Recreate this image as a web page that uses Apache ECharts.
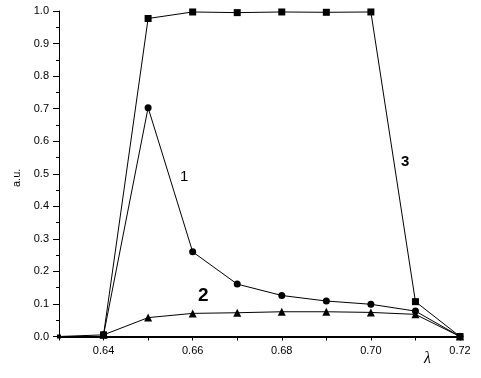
<!DOCTYPE html>
<html><head><meta charset="utf-8">
<script src="https://cdn.jsdelivr.net/npm/echarts@6/dist/echarts.min.js"></script>
<style>html,body{margin:0;padding:0;background:#fff}#c{width:481px;height:378px}</style>
</head><body><div id="c"></div>
<script>
var lambda = [0.63, 0.64, 0.65, 0.66, 0.67, 0.68, 0.69, 0.70, 0.71, 0.72];
var curve3 = [0, 0.005, 0.977, 0.997, 0.995, 0.997, 0.996, 0.997, 0.107, 0];
var curve1 = [null, 0.005, 0.703, 0.260, 0.161, 0.126, 0.109, 0.099, 0.078, 0];
var curve2 = [null, 0.005, 0.058, 0.071, 0.073, 0.076, 0.076, 0.074, 0.068, 0];
var xLabels = [0.64, 0.66, 0.68, 0.70, 0.72];
var xTicks = [0.63, 0.64, 0.65, 0.66, 0.67, 0.68, 0.69, 0.70, 0.71, 0.72];

function pairs(v){ var o=[]; for(var i=0;i<lambda.length;i++){ if(v[i]!==null) o.push([lambda[i], v[i]]);} return o; }
var chart = echarts.init(document.getElementById('c'));
var lab = {color:'#000', fontFamily:'Liberation Sans', fontSize:11};
function ser(data, sym, size){
  return {type:'line', data:pairs(data), symbol:sym,
    symbolSize:function(val){ return val[0] < 0.635 ? 4 : size; },
    itemStyle:{color:'#000'}, lineStyle:{color:'#000', width:1}, animation:false, z:3};
}
chart.setOption({
  animation:false,
  grid:{left:59, right:21, top:11, bottom:41.5},
  xAxis:{type:'value', min:0.63, max:0.72,
    axisLine:{show:true, lineStyle:{color:'#000', width:2}},
    axisTick:{show:true, customValues:xTicks, length:4, lineStyle:{color:'#000'}},
    axisLabel:Object.assign({customValues:xLabels, margin:9, formatter:function(v){return v.toFixed(2);}}, lab),
    splitLine:{show:false}},
  yAxis:{type:'value', min:0, max:1, interval:0.1,
    axisLine:{show:true, lineStyle:{color:'#000', width:1}},
    axisTick:{show:true, length:6, lineStyle:{color:'#000'}},
    minorTick:{show:true, splitNumber:2, length:3, lineStyle:{color:'#000'}},
    axisLabel:Object.assign({margin:10, formatter:function(v){return v.toFixed(1);}}, lab),
    splitLine:{show:false}},
  series:[ser(curve3,'rect',7), ser(curve1,'circle',7), ser(curve2,'triangle',8)],
  graphic:[
    {type:'text', left:180, top:169, style:{text:'1', font:'15px "Liberation Sans"', fill:'#000'}},
    {type:'text', left:198, top:286, style:{text:'2', font:'bold 19px "Liberation Sans"', fill:'#000'}},
    {type:'text', left:401, top:154, style:{text:'3', font:'bold 15px "Liberation Sans"', fill:'#000'}},
    {type:'text', x:11, y:187, rotation:Math.PI/2, style:{text:'a.u.', font:'11px "Liberation Sans"', fill:'#000'}},
    {type:'text', left:424, top:351, style:{text:'λ', font:'italic 16px "Liberation Serif"', fill:'#000'}}
  ]
});
</script></body></html>
